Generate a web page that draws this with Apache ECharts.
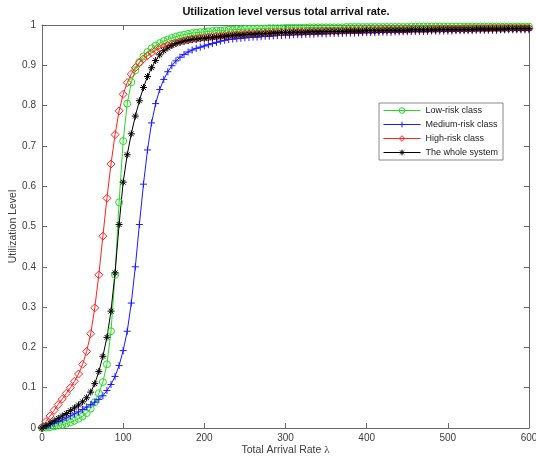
<!DOCTYPE html>
<html>
<head>
<meta charset="utf-8">
<script src="https://cdn.jsdelivr.net/npm/echarts@6/dist/echarts.min.js"></script>
<style>
  html, body { margin: 0; padding: 0; background: #fff; }
  #chart { width: 536px; height: 461px; }
</style>
</head>
<body>
<div id="chart"></div>
<script>
// Total arrival rate (lambda) sample points
const lambda = [
  0,5,10,15,20,25,30,35,40,45,50,55,60,65,70,75,80,85,90,95,
  100,105,110,115,120,125,130,135,140,145,150,155,160,165,170,175,180,185,190,195,
  200,205,210,215,220,225,230,235,240,245,250,255,260,265,270,275,280,285,290,295,
  300,305,310,315,320,325,330,335,340,345,350,355,360,365,370,375,380,385,390,395,
  400,405,410,415,420,425,430,435,440,445,450,455,460,465,470,475,480,485,490,495,
  500,505,510,515,520,525,530,535,540,545,550,555,560,565,570,575,580,585,590,595,
  600
];

// Utilization level per class
const lowRisk = [
  0.000,0.001,0.002,0.004,0.006,0.008,0.011,0.014,0.018,0.023,
  0.029,0.037,0.048,0.064,0.086,0.114,0.158,0.240,0.380,0.560,
  0.712,0.805,0.858,0.888,0.908,0.922,0.933,0.942,0.949,0.955,
  0.960,0.964,0.968,0.971,0.974,0.976,0.978,0.980,0.981,0.982,
  0.983,
  0.984,0.985,0.986,0.986,0.987,0.988,0.988,0.989,0.989,0.990,
  0.990,0.990,0.991,0.991,0.991,0.992,0.992,0.992,0.992,0.993,
  0.993,0.993,0.993,0.993,0.993,0.994,0.994,0.994,0.994,0.994,
  0.994,0.994,0.994,0.994,0.995,0.995,0.995,0.995,0.995,0.995,
  0.995,0.995,0.995,0.995,0.995,0.995,0.995,0.995,0.995,0.995,
  0.996,0.996,0.996,0.996,0.996,0.996,0.996,0.996,0.996,0.996,
  0.996,0.996,0.996,0.996,0.996,0.996,0.996,0.996,0.996,0.996,
  0.996,0.996,0.996,0.996,0.996,0.996,0.996,0.996,0.996,0.996
];

const mediumRisk = [
  0.000,0.004,0.008,0.012,0.016,0.020,0.025,0.030,0.035,0.040,
  0.046,0.052,0.058,0.064,0.071,0.080,0.093,0.108,0.128,0.155,
  0.192,0.240,0.310,0.400,0.505,0.605,0.690,0.757,0.805,0.840,
  0.865,0.884,0.899,0.911,0.920,0.927,0.933,0.938,0.942,0.945,
  0.948,
  0.951,0.954,0.957,0.960,0.962,0.964,0.965,0.966,0.967,0.968,
  0.969,0.970,0.970,0.971,0.972,0.972,0.973,0.974,0.974,0.975,
  0.975,0.976,0.976,0.976,0.977,0.977,0.977,0.978,0.978,0.978,
  0.979,0.979,0.979,0.979,0.980,0.980,0.980,0.980,0.981,0.981,
  0.981,0.981,0.982,0.982,0.982,0.982,0.983,0.983,0.983,0.983,
  0.984,0.984,0.984,0.984,0.984,0.985,0.985,0.985,0.985,0.985,
  0.985,0.986,0.986,0.986,0.986,0.986,0.987,0.987,0.987,0.987,
  0.987,0.987,0.988,0.988,0.988,0.988,0.988,0.988,0.988,0.988
];

const highRisk = [
  0.002,0.016,0.030,0.044,0.058,0.072,0.086,0.100,0.116,0.134,
  0.158,0.190,0.234,0.298,0.380,0.476,0.570,0.655,0.728,0.787,
  0.828,0.857,0.878,0.894,0.906,0.916,0.924,0.931,0.937,0.942,
  0.946,0.950,0.953,0.956,0.959,0.961,0.963,0.965,0.966,0.968,
  0.969,
  0.970,0.971,0.972,0.973,0.974,0.975,0.976,0.976,0.977,0.978,
  0.978,0.979,0.979,0.980,0.980,0.981,0.981,0.982,0.982,0.982,
  0.983,0.983,0.983,0.983,0.984,0.984,0.984,0.984,0.985,0.985,
  0.985,0.985,0.985,0.986,0.986,0.986,0.986,0.986,0.987,0.987,
  0.987,0.987,0.987,0.988,0.988,0.988,0.988,0.988,0.988,0.989,
  0.989,0.989,0.989,0.989,0.989,0.990,0.990,0.990,0.990,0.990,
  0.990,0.990,0.990,0.991,0.991,0.991,0.991,0.991,0.991,0.991,
  0.992,0.992,0.992,0.992,0.992,0.992,0.992,0.992,0.992,0.992
];

const wholeSystem = [
  0.000,0.006,0.012,0.018,0.024,0.030,0.036,0.043,0.050,0.057,
  0.065,0.075,0.089,0.110,0.140,0.178,0.225,0.290,0.385,0.505,
  0.610,0.678,0.730,0.774,0.812,0.845,0.872,0.894,0.912,0.926,
  0.936,0.943,0.949,0.954,0.957,0.960,0.962,0.964,0.965,0.966,
  0.967,
  0.968,0.969,0.970,0.971,0.972,0.973,0.974,0.975,0.975,0.976,
  0.977,0.977,0.978,0.978,0.979,0.979,0.980,0.980,0.981,0.981,
  0.981,0.982,0.982,0.982,0.982,0.983,0.983,0.983,0.983,0.984,
  0.984,0.984,0.984,0.984,0.985,0.985,0.985,0.985,0.985,0.986,
  0.986,0.986,0.986,0.986,0.987,0.987,0.987,0.987,0.987,0.987,
  0.988,0.988,0.988,0.988,0.988,0.988,0.988,0.989,0.989,0.989,
  0.989,0.989,0.989,0.989,0.989,0.989,0.990,0.990,0.990,0.990,
  0.990,0.990,0.990,0.990,0.991,0.991,0.991,0.991,0.991,0.991
];

const seriesNames = ['Low-risk class', 'Medium-risk class', 'High-risk class', 'The whole system'];
const seriesColors = ['#22dd22', '#1a1aff', '#ff2020', '#000000'];
const xTicks = { min: 0, max: 600, interval: 100 };
const yTicks = { min: 0, max: 1, interval: 0.1 };

const FONT = '"Liberation Sans", Arial, Helvetica, sans-serif';
const AXIS_COLOR = '#6a6a6a';
const LABEL_COLOR = '#3c3c3c';
const CLEAR = 'rgba(0,0,0,0)';

const PLUS = 'path://M5,0L5,10M0,5L10,5';
const STAR = 'path://M5,0L5,10M0,5L10,5M1.6,1.6L8.4,8.4M1.6,8.4L8.4,1.6';
const seriesSymbols = ['circle', PLUS, 'diamond', STAR];
const symbolSizes = [7, 7, 8, 7];

function pairs(ys) {
  return lambda.map((x, i) => [x, ys[i]]);
}

function makeSeries(k, ys) {
  const color = seriesColors[k];
  return {
    name: seriesNames[k],
    type: 'line',
    data: pairs(ys),
    symbol: seriesSymbols[k],
    symbolSize: symbolSizes[k],
    showSymbol: true,
    lineStyle: { color: color, width: 1 },
    itemStyle: { color: CLEAR, borderColor: color, borderWidth: 1 },
    emphasis: { disabled: true },
    z: 2
  };
}

const axisCommon = {
  type: 'value',
  axisLine: { show: true, onZero: false, lineStyle: { color: AXIS_COLOR, width: 1 } },
  axisTick: { show: true, inside: true, length: 5, lineStyle: { color: AXIS_COLOR } },
  splitLine: { show: false }
};

const chart = echarts.init(document.getElementById('chart'));
chart.setOption({
  animation: false,
  backgroundColor: '#fff',
  grid: { left: 42, right: 7, top: 25, bottom: 33, containLabel: false, outerBoundsMode: 'none' },
  graphic: [{
    type: 'text',
    x: 286,
    y: 6,
    style: {
      text: 'Utilization level versus total arrival rate.',
      fontFamily: FONT,
      fontSize: 11,
      fontWeight: 'bold',
      fill: '#111',
      textAlign: 'center'
    }
  }],
  legend: {
    data: seriesNames.map((name, k) => ({
      name: name,
      itemStyle: { color: CLEAR, borderColor: seriesColors[k], borderWidth: 1 },
      lineStyle: { color: seriesColors[k], width: 1 }
    })),
    orient: 'vertical',
    left: 379,
    top: 103,
    itemWidth: 37,
    itemHeight: 7,
    itemGap: 5,
    padding: [3, 5, 3, 4],
    backgroundColor: '#fff',
    borderColor: '#8a8a8a',
    borderWidth: 1,
    textStyle: { fontFamily: FONT, fontSize: 9, color: '#222' },
    selectedMode: false
  },
  xAxis: [
    Object.assign({}, axisCommon, {
      min: xTicks.min, max: xTicks.max, interval: xTicks.interval,
      position: 'bottom',
      axisLabel: { fontFamily: FONT, fontSize: 10, color: LABEL_COLOR, margin: 5 },
      name: 'Total Arrival Rate {g|λ}',
      nameLocation: 'middle',
      nameGap: 17,
      nameMoveOverlap: false,
      nameTextStyle: {
        fontFamily: FONT, fontSize: 10.5, color: LABEL_COLOR,
        rich: { g: { fontFamily: '"Liberation Serif", "DejaVu Serif", serif', fontSize: 11, color: LABEL_COLOR } }
      }
    }),
    Object.assign({}, axisCommon, {
      min: xTicks.min, max: xTicks.max, interval: xTicks.interval,
      position: 'top',
      axisLabel: { show: false }
    })
  ],
  yAxis: [
    Object.assign({}, axisCommon, {
      min: yTicks.min, max: yTicks.max, interval: yTicks.interval,
      position: 'left',
      axisLabel: { fontFamily: FONT, fontSize: 10, color: LABEL_COLOR, margin: 6 },
      name: 'Utilization Level',
      nameLocation: 'middle',
      nameGap: 23,
      nameMoveOverlap: false,
      nameTextStyle: { fontFamily: FONT, fontSize: 10.5, color: LABEL_COLOR }
    }),
    Object.assign({}, axisCommon, {
      min: yTicks.min, max: yTicks.max, interval: yTicks.interval,
      position: 'right',
      axisLabel: { show: false }
    })
  ],
  series: [
    makeSeries(0, lowRisk),
    makeSeries(1, mediumRisk),
    makeSeries(2, highRisk),
    makeSeries(3, wholeSystem)
  ]
});
</script>
</body>
</html>
